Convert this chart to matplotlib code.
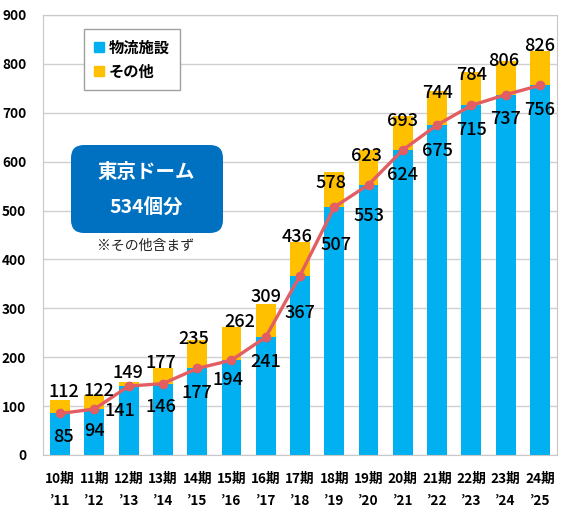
import matplotlib.pyplot as plt
import numpy as np
from matplotlib.lines import Line2D
from matplotlib.patches import FancyBboxPatch

plt.rcParams['font.family'] = ['Noto Sans CJK JP', 'DejaVu Sans']

# データ
periods = ['10期', '11期', '12期', '13期', '14期', '15期', '16期', '17期',
           '18期', '19期', '20期', '21期', '22期', '23期', '24期']
years = ['’11', '’12', '’13', '’14', '’15', '’16', '’17', '’18',
         '’19', '’20', '’21', '’22', '’23', '’24', '’25']
logistics = [85, 94, 141, 146, 177, 194, 241, 367, 507, 553, 624, 675, 715, 737, 756]
total = [112, 122, 149, 177, 235, 262, 309, 436, 578, 623, 693, 744, 784, 806, 826]

# ラベル位置の微調整 (データ単位)
total_dy = [17, 9, 18, 11, 2, 10, 14, 10, -22, -12, -10, -3, -7, 0, 10]
total_dx = [0.12, 0.12, -0.03, -0.05, -0.1, 0.25, 0, -0.1, -0.1, -0.05, 0, 0, 0, -0.05, 0]
blue_dy = [-48, -44, -52, -48, -50, -41, -50, -76, -78, -64, -51, -53, -50, -50, -51]
blue_dx = [0.1, 0, -0.27, -0.05, 0, -0.1, 0, 0, 0.05, 0.02, 0, 0, 0, 0, 0]

BLUE = '#00B0F0'
YELLOW = '#FFC000'
RED = '#E35E63'

fig = plt.figure(figsize=(5.72, 5.18), dpi=100)
ax = fig.add_axes([43 / 572, 1 - 455 / 518, 514 / 572, 440 / 518])

x = np.arange(len(periods))
other = np.array(total) - np.array(logistics)
ax.bar(x, logistics, width=0.58, color=BLUE, zorder=2)
ax.bar(x, other, width=0.58, bottom=logistics, color=YELLOW, zorder=2)
ax.plot(x, logistics, color=RED, lw=2.4, marker='o', ms=6, zorder=3)

for i in x:
    ax.text(i + total_dx[i], total[i] + total_dy[i], str(total[i]),
            ha='center', va='center', fontsize=13, fontweight='medium', zorder=4)
    ax.text(i + blue_dx[i], logistics[i] + blue_dy[i], str(logistics[i]),
            ha='center', va='center', fontsize=13, fontweight='medium', zorder=4)

ax.set_xlim(-0.5, len(periods) - 0.5)
ax.set_ylim(0, 900)
ax.set_yticks(range(0, 901, 100))
ax.set_xticks(x)
ax.set_xticklabels([p + '\n' + y for p, y in zip(periods, years)],
                   fontsize=9.8, fontweight='bold', linespacing=1.75)
ax.tick_params(axis='both', length=0)
ax.tick_params(axis='x', pad=12)
ax.tick_params(axis='y', pad=12)
for lbl in ax.get_yticklabels():
    lbl.set_fontweight('bold')
    lbl.set_fontsize(9.8)
ax.grid(axis='y', color='#D0D0D0', lw=1, zorder=0)
ax.set_axisbelow(True)
for s in ax.spines.values():
    s.set_color('#C8C8C8')

handles = [Line2D([], [], marker='s', ls='', color=BLUE, ms=7),
           Line2D([], [], marker='s', ls='', color=YELLOW, ms=7)]
leg = ax.legend(handles, ['物流施設', 'その他'], loc='upper left',
                bbox_to_anchor=((84 - 43) / 514, (455 - 29) / 440),
                prop={'weight': 'bold', 'size': 11}, fancybox=False,
                edgecolor='#A0A0A0', framealpha=1, handlelength=0.6,
                handletextpad=0.3, borderpad=0.7, labelspacing=0.5,
                borderaxespad=0)
leg.get_frame().set_linewidth(1)

box = FancyBboxPatch((0.71, (518 - 233) / 100), 1.52, 0.88,
                     boxstyle='round,pad=0,rounding_size=0.13',
                     transform=fig.dpi_scale_trans, facecolor='#0070C0',
                     edgecolor='none', zorder=5)
fig.patches.append(box)
fig.text(146 / 572, 1 - 173 / 518, '東京ドーム', color='white', fontsize=14,
         fontweight='bold', ha='center', va='center', zorder=6)
fig.text(146 / 572, 1 - 208 / 518, '534個分', color='white', fontsize=14,
         fontweight='bold', ha='center', va='center', zorder=6)
fig.text(146 / 572, 1 - 246 / 518, '※その他含まず', color='#222222', fontsize=10,
         ha='center', va='center', zorder=6)

fig.savefig('out.png', dpi=100)
